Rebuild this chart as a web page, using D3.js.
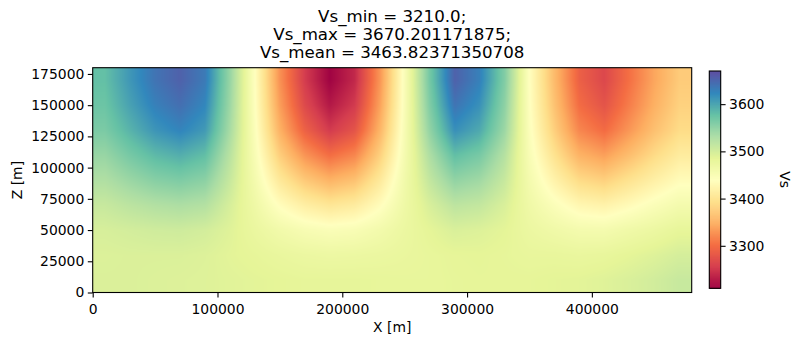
<!DOCTYPE html>
<html><head><meta charset="utf-8">
<script src="https://cdn.jsdelivr.net/npm/d3@7"></script>
<style>
body{margin:0;background:#fff}
text{font-family:"DejaVu Sans",sans-serif;fill:#000}
</style>
</head><body>
<svg id="chart" width="796" height="345"></svg>
<script>
// ---- data (Vs on a 20 km grid, cell centres) ----
const xCenters = [10000,30000,50000,70000,90000,110000,130000,150000,170000,190000,210000,230000,250000,270000,290000,310000,330000,350000,370000,390000,410000,430000,450000,470000];
const zCenters = [170000,150000,130000,110000,90000,70000,50000,30000,10000];
const vsZ170 = [3580,3612,3640,3655,3635,3545,3440,3328,3255,3212,3240,3330,3450,3568,3655,3630,3560,3440,3360,3290,3266,3304,3343,3375];
const vsZ150 = [3574,3604,3630,3644,3625,3541,3442,3337,3268,3228,3254,3339,3451,3560,3640,3617,3552,3442,3367,3301,3278,3314,3351,3381];
const vsZ130 = [3564,3590,3614,3627,3610,3534,3446,3352,3291,3254,3278,3354,3454,3548,3618,3598,3542,3446,3379,3320,3300,3332,3365,3391];
const vsZ110 = [3545,3567,3585,3594,3581,3521,3452,3378,3330,3302,3320,3379,3458,3529,3581,3566,3524,3452,3399,3353,3338,3363,3390,3412];
const vsZ90  = [3528,3543,3556,3562,3553,3510,3460,3407,3373,3353,3366,3408,3464,3513,3549,3539,3510,3460,3422,3390,3380,3399,3418,3435];
const vsZ70  = [3510,3519,3526,3530,3525,3498,3469,3437,3416,3404,3412,3436,3469,3497,3518,3513,3496,3468,3447,3428,3422,3434,3448,3460];
const vsZ50  = [3498,3501,3504,3505,3501,3491,3477,3464,3454,3449,3452,3462,3475,3486,3496,3493,3487,3475,3467,3460,3459,3467,3474,3483];
const vsZ30  = [3494,3495,3495,3495,3493,3488,3484,3479,3475,3473,3474,3476,3479,3482,3485,3486,3484,3481,3481,3479,3481,3486,3492,3499];
const vsZ10  = [3495,3495,3494,3493,3492,3490,3488,3486,3484,3484,3484,3483,3482,3482,3484,3485,3485,3485,3487,3488,3491,3496,3502,3510];
const xTicks = [0,100000,200000,300000,400000];
const zTicks = [0,25000,50000,75000,100000,125000,150000,175000];
const cbTicks = [3300,3400,3500,3600];
const xDomain = [0,480000];
const zDomain = [0,180000];
const vsMin = 3210.0, vsMax = 3670.201171875, vsMean = 3463.82371350708;
const titleLines = ["Vs_min = 3210.0;","Vs_max = 3670.201171875;","Vs_mean = 3463.82371350708"];
const spectral = ["#9e0142","#d53e4f","#f46d43","#fdae61","#fee08b","#ffffbf","#e6f598","#abdda4","#66c2a5","#3288bd","#5e4fa2"];

const rows = [vsZ170,vsZ150,vsZ130,vsZ110,vsZ90,vsZ70,vsZ50,vsZ30,vsZ10];

// ---- layout ----
const L = 92.7, R = 691.7, T = 67.7, B = 292.5;
const cbL = 709.3, cbR = 720.7, cbT = 71, cbB = 288.3;

const svg = d3.select("#chart");
const x = d3.scaleLinear().domain(xDomain).range([L, R]);
const y = d3.scaleLinear().domain(zDomain).range([B, T]);
const color = d3.scaleSequential(d3.piecewise(d3.interpolateRgb, spectral)).domain([vsMin, vsMax]);

// ---- heat map image (bilinear shading between grid cells) ----
const W = Math.round(R - L), H = Math.round(B - T);
const canvas = document.createElement("canvas");
canvas.width = W; canvas.height = H;
const ctx = canvas.getContext("2d");
const img = ctx.createImageData(W, H);
const xi = d3.scaleLinear().domain([xCenters[0], xCenters[xCenters.length-1]]).range([0, xCenters.length-1]).clamp(true);
const zi = d3.scaleLinear().domain([zCenters[0], zCenters[zCenters.length-1]]).range([0, zCenters.length-1]).clamp(true);
for (let j = 0; j < H; j++) {
  const zv = y.invert(T + (j + 0.5) * (B - T) / H);
  const fz = zi(zv); const z0 = Math.floor(fz), z1 = Math.min(z0 + 1, rows.length - 1), tz = fz - z0;
  for (let i = 0; i < W; i++) {
    const xv = x.invert(L + (i + 0.5) * (R - L) / W);
    const fx = xi(xv); const x0 = Math.floor(fx), x1 = Math.min(x0 + 1, xCenters.length - 1), tx = fx - x0;
    const a = rows[z0][x0] * (1 - tx) + rows[z0][x1] * tx;
    const b = rows[z1][x0] * (1 - tx) + rows[z1][x1] * tx;
    const v = a * (1 - tz) + b * tz;
    const c = d3.rgb(color(v));
    const k = (j * W + i) * 4;
    img.data[k] = c.r; img.data[k+1] = c.g; img.data[k+2] = c.b; img.data[k+3] = 255;
  }
}
ctx.putImageData(img, 0, 0);
svg.append("image")
  .attr("x", x(xDomain[0])).attr("y", y(zDomain[1]))
  .attr("width", x(xDomain[1]) - x(xDomain[0])).attr("height", y(zDomain[0]) - y(zDomain[1]))
  .attr("preserveAspectRatio", "none")
  .attr("href", canvas.toDataURL());

// ---- axes ----
const fmt = d3.format("d");
const xAxis = svg.append("g").attr("transform", `translate(0,${B})`)
  .call(d3.axisBottom(x).tickValues(xTicks).tickFormat(fmt).tickSize(4.9).tickPadding(3.5));
const yAxis = svg.append("g").attr("transform", `translate(${L},0)`)
  .call(d3.axisLeft(y).tickValues(zTicks).tickFormat(fmt).tickSize(4.9).tickPadding(3.5));
[xAxis, yAxis].forEach(g => {
  g.select(".domain").remove();
  g.selectAll(".tick line").attr("stroke", "#000").attr("stroke-width", 1.1);
  g.selectAll(".tick text").attr("font-size", "13.9px").attr("font-family", "DejaVu Sans").attr("fill", "#000");
});
xAxis.selectAll(".tick text").attr("dy", "0.95em");

svg.append("rect").attr("x", L).attr("y", T).attr("width", R - L).attr("height", B - T)
  .attr("fill", "none").attr("stroke", "#000").attr("stroke-width", 1.1);

svg.append("text").attr("x", (L + R) / 2).attr("y", 332).attr("text-anchor", "middle")
  .attr("font-size", "13.9px").text("X [m]");
svg.append("text").attr("transform", `translate(22,${(T + B) / 2}) rotate(-90)`)
  .attr("text-anchor", "middle").attr("font-size", "13.9px").text("Z [m]");

// ---- title ----
titleLines.forEach((t, i) => {
  svg.append("text").attr("x", (L + R) / 2).attr("y", 22 + i * 18.2)
    .attr("text-anchor", "middle").attr("font-size", "16.67px").text(t);
});

// ---- colorbar ----
const yc = d3.scaleLinear().domain([vsMin, vsMax]).range([cbB, cbT]);
const steps = d3.range(0, 220).map(k => vsMin + (vsMax - vsMin) * k / 220);
const dv = (vsMax - vsMin) / 220;
svg.append("g").selectAll("rect").data(steps).join("rect")
  .attr("x", cbL).attr("width", cbR - cbL)
  .attr("y", d => yc(d + dv)).attr("height", d => yc(d) - yc(d + dv) + 0.6)
  .attr("fill", d => color(d + dv / 2));
svg.append("rect").attr("x", cbL).attr("y", cbT).attr("width", cbR - cbL).attr("height", cbB - cbT)
  .attr("fill", "none").attr("stroke", "#000").attr("stroke-width", 1.1);
const cAxis = svg.append("g").attr("transform", `translate(${cbR},0)`)
  .call(d3.axisRight(yc).tickValues(cbTicks).tickFormat(fmt).tickSize(4.9).tickPadding(3.5));
cAxis.select(".domain").remove();
cAxis.selectAll(".tick line").attr("stroke", "#000").attr("stroke-width", 1.1);
cAxis.selectAll(".tick text").attr("font-size", "13.9px").attr("font-family", "DejaVu Sans").attr("fill", "#000");
svg.append("text").attr("transform", `translate(780,${(cbT + cbB) / 2}) rotate(90)`)
  .attr("text-anchor", "middle").attr("font-size", "13.9px").text("Vs");
</script>
</body></html>
